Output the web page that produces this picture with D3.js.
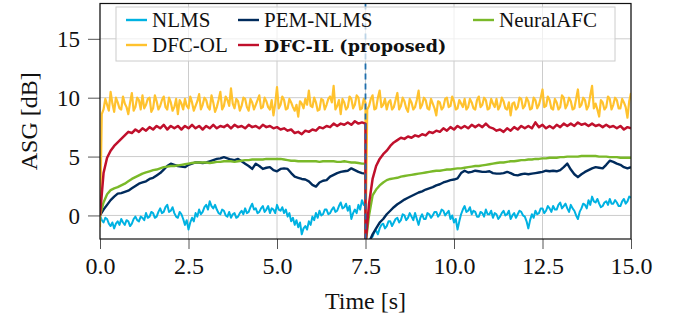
<!DOCTYPE html>
<html>
<head>
<meta charset="utf-8">
<script src="https://cdn.jsdelivr.net/npm/d3@7"></script>
<style>
  body { margin: 0; background: #fff; }
</style>
</head>
<body>
<div id="chart"></div>
<script>
// ASG over time, with a reset at t = 7.5 s
// sampling grids: coarse 0.1 s, fine 0.05 s (noisy curves); first half 0..7.5, second half 7.5..15
const timeA = d3.range(76).map(i => i / 10);
const timeB = d3.range(76).map(i => 7.5 + i / 10);
const fineA = d3.range(151).map(i => i / 20);
const fineB = d3.range(151).map(i => 7.5 + i / 20);

const xTicks = [0, 2.5, 5, 7.5, 10, 12.5, 15];
const yTicks = [0, 5, 10, 15];
const resetTime = 7.5;

const nlmsA = [0, -0.4, -0.6, -0.2, -0.3, -0.7, -0.9, -0.6, -1.1, -0.7,
  -0.5, -0.8, -0.3, -0.6, -0.8, -0.4, -0.5, -0.9, -0.7, -0.3,
  -0.1, -0.4, -0.5, -0.1, -0.2, -0.4, 0.2, -0.2, -0.1, 0.3,
  0.2, -0.2, -0.1, 0.3, 0.6, 0.2, 0.3, 0.7, 0.9, 0.3,
  0.4, 0.7, 0.2, -0.1, -0.2, 0.3, 0.1, -0.3, -0.8, -0.4,
  -1.2, -0.6, -0.2, -0.5, 0.2, -0.1, 0.5, 0.1, 0.3, 0.7,
  0.9, 0.5, 1.2, 0.8, 0.6, 0.9, 0.5, 0.2, 0.1, 0.5,
  0.4, 0.0, -0.1, 0.3, -0.2, 0.1, 0.2, -0.2, -0.1, 0.2,
  0.4, 0.1, 0.6, 0.2, 0.3, 0.7, 1.0, 0.5, 0.6, 0.2,
  0.3, 0.6, 0.8, 0.3, 0.5, 0.8, 0.2, 0.6, 0.5, 0.2,
  0.9, 0.5, 0.4, 0.7, 0.2, 0.5, -0.1, 0.2, -0.5, -0.2,
  -0.8, -0.4, -1.0, -0.6, -1.6, -1.1, -0.9, -1.2, -0.5, -0.8,
  -0.1, -0.4, 0.2, -0.2, 0.4, 0.0, 0.1, 0.5, 0.5, 0.1,
  0.2, 0.5, 0.7, 0.3, 0.4, 0.8, 1.1, 0.6, 0.7, 1.0,
  0.4, 0.8, -0.3, 0.2, 0.5, 0.2, 0.9, 0.5, 1.3, 0.9,
  0.8];
const nlmsB = [-2.5, -2.6, -2.3, -1.9, -1.8, -1.4, -1.3, -1.6, -1.1, -0.8,
  -0.7, -1.1, -0.9, -0.5, -0.5, -0.9, -0.6, -0.3, -0.2, -0.6,
  -0.4, 0.1, 0.0, -0.4, -0.2, 0.2, -0.1, -0.4, 0.2, -0.3,
  -0.8, -0.2, 0.1, -0.3, -0.3, 0.2, 0.1, -0.2, 0.0, 0.3,
  0.3, -0.1, 0.1, 0.5, 0.4, 0.0, 0.2, 0.4, -0.3, 0.0,
  -0.6, -0.3, -1.2, -0.5, 0.1, 0.5, 0.8, 0.3, 0.4, 0.7,
  0.1, 0.4, 0.3, -0.1, -0.1, 0.3, 0.2, -0.1, 0.5, 0.1,
  0.1, 0.4, -0.2, 0.2, 0.1, -0.3, -0.1, 0.2, 0.4, 0.0,
  0.1, 0.4, -0.3, 0.0, 0.2, -0.2, 0.1, 0.4, 0.3, 0.0,
  -0.1, -0.5, -1.1, -0.4, 0.1, -0.2, 0.4, 0.1, 0.2, 0.6,
  0.6, 0.2, 0.4, 0.8, 0.6, 0.3, 0.8, 0.5, 0.5, 0.9,
  1.1, 0.6, 0.8, 1.0, 0.6, 0.3, 0.9, 0.6, 0.4, 0.0,
  -0.3, 0.3, 0.6, 1.0, 0.9, 0.6, 1.3, 0.9, 1.6, 1.2,
  1.1, 1.4, 1.0, 0.7, 0.8, 1.1, 1.2, 0.9, 1.4, 1.0,
  1.0, 1.3, 1.1, 0.8, 0.8, 1.2, 1.4, 1.0, 1.2, 1.6,
  1.5];

const pemA = [0, 0.5, 0.9, 1.3, 1.6, 1.85, 1.9, 2.0, 2.1, 2.3,
  2.5, 2.7, 2.8, 2.9, 3.1, 3.2, 3.4, 3.6, 3.9, 4.2,
  4.4, 4.3, 4.2, 4.15, 4.1, 4.3, 4.4, 4.5, 4.5, 4.45,
  4.5, 4.6, 4.7, 4.8, 4.85, 4.95, 4.85, 4.75, 4.7, 4.8,
  4.6, 4.4, 4.2, 3.95, 4.4, 4.2, 3.95, 4.05, 4.1, 3.85,
  3.75, 3.95, 4.0, 3.95, 3.6, 3.3, 3.2, 3.1, 3.05, 2.9,
  2.6, 2.45, 2.8, 2.95, 3.0, 3.3, 3.45, 3.6, 3.7, 3.75,
  3.8, 4.0, 3.85, 3.7, 3.6, 3.55];
const pemB = [-2.5, -2.3, -1.6, -1.1, -0.6, -0.3, 0.1, 0.4, 0.7, 0.95,
  1.15, 1.35, 1.5, 1.65, 1.8, 1.95, 2.05, 2.2, 2.3, 2.4,
  2.55, 2.65, 2.8, 2.9, 3.0, 3.05, 3.15, 3.6, 3.8, 3.65,
  3.7, 3.8, 3.75, 3.7, 3.7, 3.75, 3.6, 3.55, 3.55, 3.6,
  3.7, 3.6, 3.45, 3.4, 3.5, 3.55, 3.5, 3.55, 3.6, 3.65,
  3.7, 3.8, 3.75, 3.8, 3.75, 3.85, 4.1, 4.4, 3.9, 3.5,
  3.25, 3.5, 3.7, 3.85, 4.0, 4.1, 4.05, 4.0, 4.3, 4.65,
  4.55, 4.4, 4.3, 4.1, 4.0, 4.1];

const neuralA = [0, 1.1, 1.8, 2.15, 2.3, 2.4, 2.55, 2.7, 2.9, 3.1,
  3.25, 3.4, 3.55, 3.65, 3.75, 3.85, 3.9, 4.0, 4.1, 4.15,
  4.2, 4.2, 4.25, 4.3, 4.35, 4.4, 4.45, 4.5, 4.5, 4.5,
  4.5, 4.45, 4.5, 4.55, 4.55, 4.6, 4.6, 4.6, 4.55, 4.6,
  4.65, 4.7, 4.7, 4.75, 4.75, 4.75, 4.75, 4.8, 4.8, 4.8,
  4.8, 4.8, 4.75, 4.7, 4.65, 4.65, 4.6, 4.6, 4.6, 4.6,
  4.6, 4.6, 4.55, 4.6, 4.6, 4.6, 4.6, 4.55, 4.55, 4.6,
  4.55, 4.5, 4.5, 4.45, 4.4, 4.4];
const neuralB = [-2.5, 0.0, 1.7, 2.2, 2.55, 2.8, 3.0, 3.1, 3.15, 3.2,
  3.3, 3.35, 3.4, 3.45, 3.5, 3.55, 3.6, 3.65, 3.7, 3.75,
  3.8, 3.8, 3.85, 3.9, 3.9, 3.95, 4.0, 4.0, 4.05, 4.1,
  4.15, 4.2, 4.2, 4.25, 4.3, 4.35, 4.4, 4.45, 4.5, 4.5,
  4.55, 4.6, 4.6, 4.65, 4.7, 4.7, 4.75, 4.75, 4.8, 4.8,
  4.85, 4.85, 4.9, 4.9, 4.9, 4.95, 4.95, 5.0, 5.0, 5.0,
  5.0, 5.05, 5.05, 5.05, 5.05, 5.05, 5.0, 5.0, 5.0, 4.95,
  4.95, 4.95, 4.9, 4.9, 4.9, 4.9];

const dfcolA = [-1.0, 8.6, 9.0, 9.9, 9.4, 8.9, 10.5, 9.5, 8.8, 10.0,
  9.6, 9.1, 9.0, 10.1, 9.5, 9.2, 8.6, 9.6, 10.4, 8.9,
  9.2, 10.0, 9.8, 9.0, 10.2, 9.1, 9.4, 9.9, 10.0, 8.8,
  9.1, 10.2, 9.7, 9.0, 9.3, 9.8, 10.1, 9.2, 9.0, 10.0,
  9.6, 8.9, 9.2, 9.9, 8.6, 9.8, 9.5, 9.0, 9.9, 9.3,
  9.1, 10.1, 9.6, 8.9, 9.3, 9.7, 10.3, 9.0, 9.4, 10.0,
  9.8, 9.2, 9.0, 10.2, 9.6, 8.8, 9.2, 9.8, 10.5, 9.0,
  9.3, 10.1, 9.8, 9.3, 10.8, 9.5, 9.1, 9.9, 9.7, 8.9,
  9.3, 10.0, 9.9, 9.2, 8.9, 9.9, 9.6, 9.0, 9.4, 9.8,
  10.2, 9.1, 9.2, 10.0, 9.7, 9.2, 9.0, 9.8, 8.5, 9.5,
  10.9, 9.1, 9.4, 10.1, 9.8, 9.0, 9.1, 9.9, 9.6, 9.2,
  8.9, 9.4, 8.4, 9.7, 9.5, 9.1, 9.9, 9.4, 10.6, 9.3,
  9.2, 10.0, 9.6, 8.9, 9.0, 9.9, 9.8, 9.0, 9.4, 9.9,
  10.1, 9.6, 11.0, 9.0, 9.3, 9.8, 8.6, 9.9, 9.6, 9.0,
  9.2, 10.1, 9.9, 9.1, 9.4, 10.2, 10.0, 9.0, 9.1, 9.9,
  9.6];
const dfcolB = [-2.5, 9.0, 9.3, 9.9, 10.2, 9.0, 9.1, 10.0, 10.6, 9.2,
  9.4, 9.9, 9.0, 9.6, 9.8, 9.0, 9.2, 9.8, 10.4, 9.0,
  9.3, 10.0, 9.7, 9.1, 8.8, 9.9, 9.6, 9.0, 9.2, 9.8,
  10.6, 9.1, 9.4, 10.0, 9.8, 9.1, 9.0, 9.9, 9.5, 9.1,
  8.5, 9.7, 9.6, 9.0, 9.2, 9.9, 10.0, 9.2, 9.3, 10.1,
  9.7, 9.0, 9.1, 9.8, 9.5, 9.2, 9.9, 9.0, 9.2, 9.9,
  9.6, 9.1, 9.0, 9.8, 10.1, 9.2, 9.4, 10.0, 9.8, 9.0,
  9.1, 9.9, 9.5, 9.2, 9.9, 9.0, 9.3, 10.0, 9.7, 9.1,
  9.0, 9.6, 8.5, 9.5, 9.6, 9.0, 9.2, 10.0, 9.9, 9.1,
  9.3, 10.0, 9.7, 9.0, 9.1, 10.0, 9.8, 9.1, 9.4, 10.0,
  10.7, 9.2, 9.3, 10.1, 9.8, 9.1, 9.0, 9.9, 9.6, 9.0,
  9.2, 10.2, 10.0, 9.1, 9.4, 10.0, 9.7, 9.0, 9.1, 9.9,
  10.7, 9.2, 9.4, 10.0, 9.8, 9.0, 9.3, 10.2, 11.0, 9.1,
  9.5, 9.0, 8.4, 9.8, 9.6, 9.0, 9.2, 10.1, 9.9, 9.0,
  9.4, 10.0, 9.8, 9.1, 9.1, 9.9, 9.6, 9.2, 8.3, 9.7,
  10.4];

const dfcilA = [0.0, 3.6, 4.9, 5.5, 5.9, 6.2, 6.5, 6.8, 7.1, 7.0,
  7.3, 7.1, 7.4, 7.2, 7.5, 7.3, 7.6, 7.4, 7.7, 7.3,
  7.6, 7.4, 7.6, 7.3, 7.6, 7.4, 7.7, 7.4, 7.6, 7.3,
  7.6, 7.4, 7.7, 7.4, 7.6, 7.5, 7.7, 7.4, 7.7, 7.5,
  7.6, 7.4, 7.7, 7.5, 7.6, 7.4, 7.7, 7.5, 7.6, 7.4,
  7.5, 7.3, 7.4, 7.2, 7.3, 7.0, 7.1, 6.9, 7.2, 7.1,
  7.3, 7.2, 7.5, 7.4, 7.6, 7.5, 7.8, 7.6, 7.8, 7.7,
  7.9, 7.7, 8.0, 7.8, 7.9, 7.8];
const dfcilB = [-2.5, 1.0, 3.1, 4.2, 4.8, 5.2, 5.5, 5.9, 6.2, 6.4,
  6.6, 6.5, 6.7, 6.6, 6.8, 6.7, 6.9, 6.8, 7.1, 7.0,
  7.2, 7.1, 7.4, 7.2, 7.5, 7.3, 7.6, 7.4, 7.6, 7.4,
  7.7, 7.5, 7.7, 7.5, 7.8, 7.5, 7.4, 7.2, 7.3, 7.1,
  7.4, 7.2, 7.5, 7.3, 7.6, 7.4, 7.6, 7.4, 7.9, 7.5,
  7.7, 7.4, 7.6, 7.4, 7.7, 7.5, 7.8, 7.6, 7.8, 7.6,
  7.9, 7.7, 7.8, 7.6, 7.8, 7.6, 7.7, 7.5, 7.7, 7.5,
  7.6, 7.4, 7.6, 7.3, 7.5, 7.4];

const seriesNames = ["NLMS", "PEM-NLMS", "NeuralAFC", "DFC-OL", "DFC-IL (proposed)"];
const seriesColors = ["#00b2e2", "#002b5c", "#7ab929", "#ffc22e", "#c0102c"];
const seriesWidths = [2.0, 2.4, 2.4, 2.2, 2.5];
const seriesData = [
  [fineA, nlmsA, fineB, nlmsB],
  [timeA, pemA, timeB, pemB],
  [timeA, neuralA, timeB, neuralB],
  [fineA, dfcolA, fineB, dfcolB],
  [timeA, dfcilA, timeB, dfcilB]
];

const width = 681, height = 322;
const margin = {top: 3.5, right: 50, bottom: 83, left: 100};
const w = 631 - margin.left, h = 239 - margin.top;
const serif = "Liberation Serif";

const svg = d3.select("#chart").append("svg")
  .attr("width", width).attr("height", height);
const g = svg.append("g")
  .attr("transform", `translate(${margin.left}, ${margin.top})`);

const x = d3.scaleLinear().domain([0, 15]).range([0, w]);
const y = d3.scaleLinear().domain([-2, 18]).range([h, 0]);

// grid
g.append("g").selectAll("line").data(xTicks).join("line")
  .attr("x1", d => x(d)).attr("x2", d => x(d)).attr("y1", 0).attr("y2", h)
  .attr("stroke", "#cccccc").attr("stroke-width", 1);
g.append("g").selectAll("line").data(yTicks).join("line")
  .attr("x1", 0).attr("x2", w).attr("y1", d => y(d)).attr("y2", d => y(d))
  .attr("stroke", "#cccccc").attr("stroke-width", 1);

// clip
g.append("defs").append("clipPath").attr("id", "clip")
  .append("rect").attr("width", w).attr("height", h);

const line = d3.line().x(d => x(d[0])).y(d => y(d[1]));
const curves = g.append("g").attr("clip-path", "url(#clip)");
seriesData.forEach(([tA, vA, tB, vB], i) => {
  const pts = tA.map((t, k) => [t, vA[k]])
    .concat(tB.map((t, k) => [t, vB[k]]));
  curves.append("path").datum(pts)
    .attr("fill", "none")
    .attr("stroke", seriesColors[i])
    .attr("stroke-width", seriesWidths[i])
    .attr("stroke-linejoin", "round")
    .attr("d", line);
});

// reset marker
curves.append("line")
  .attr("x1", x(resetTime)).attr("x2", x(resetTime)).attr("y1", 0).attr("y2", h)
  .attr("stroke", "#1f6fad").attr("stroke-width", 1.8)
  .attr("stroke-dasharray", "6,4");

// axes
const xAxis = g.append("g").attr("transform", `translate(0, ${h})`)
  .call(d3.axisBottom(x).tickValues(xTicks).tickFormat(d3.format(".1f")).tickSizeOuter(0).tickSize(10).tickPadding(8));
const yAxis = g.append("g")
  .call(d3.axisLeft(y).tickValues(yTicks).tickFormat(d3.format("d")).tickSizeOuter(0).tickSize(12).tickPadding(8));
[xAxis, yAxis].forEach(a => {
  a.select(".domain").remove();
  a.selectAll(".tick line").attr("stroke", "#555").attr("stroke-width", 1);
  a.selectAll(".tick text").attr("font-family", serif).attr("font-size", 24).attr("fill", "#111");
});
yAxis.selectAll(".tick text").attr("font-size", 23).attr("dy", "0.34em");

g.append("rect").attr("width", w).attr("height", h)
  .attr("fill", "none").attr("stroke", "#111").attr("stroke-width", 1.2);

// axis labels
svg.append("text")
  .attr("x", margin.left + w / 2).attr("y", 309)
  .attr("text-anchor", "middle").attr("font-family", serif).attr("font-size", 24)
  .attr("fill", "#111")
  .text("Time [s]");
svg.append("text")
  .attr("transform", `translate(37, ${margin.top + h / 2}) rotate(-90)`)
  .attr("text-anchor", "middle").attr("font-family", serif).attr("font-size", 24)
  .attr("fill", "#111")
  .text("ASG [dB]");

// legend (semi-transparent, the marker shows faintly through it)
const legend = svg.append("g");
legend.append("rect")
  .attr("x", 116).attr("y", 7).attr("width", 499).attr("height", 54)
  .attr("fill", "#fff").attr("fill-opacity", 0.7)
  .attr("stroke", "#cccccc").attr("stroke-width", 1);
const legendPos = [[126, 20], [238, 20], [473, 20], [126, 45], [238, 45]];
seriesNames.forEach((name, i) => {
  const [lx, ly] = legendPos[i];
  legend.append("line")
    .attr("x1", lx).attr("x2", lx + 21).attr("y1", ly).attr("y2", ly)
    .attr("stroke", seriesColors[i]).attr("stroke-width", 2.4);
  const t = legend.append("text")
    .attr("x", lx + 26).attr("y", ly + 6.5)
    .attr("font-family", serif).attr("font-size", 21).attr("fill", "#111")
    .text(name);
  if (i === 4) t.attr("font-family", "DejaVu Serif").attr("font-weight", "bold").attr("font-size", 17.5);
});
</script>
</body>
</html>
